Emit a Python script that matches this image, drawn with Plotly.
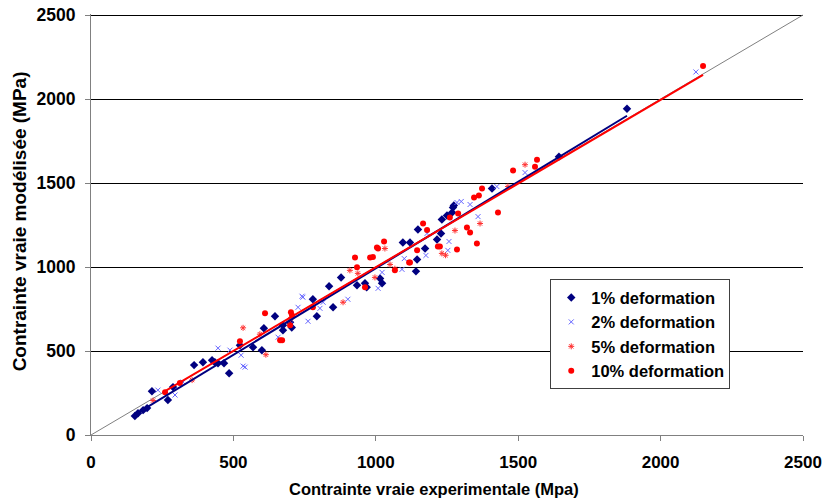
import numpy as np
import plotly.graph_objects as go

# ---- data ----
s1_x = [154, 165, 183, 197, 214, 270, 288, 362, 393, 425, 435, 446, 467, 485, 523, 569, 600, 607,
        646, 674, 674, 699, 705, 779, 793, 836, 850, 878, 934, 962, 968, 1015, 1022, 1095, 1120,
        1141, 1145, 1148, 1173, 1215, 1229, 1232, 1250, 1268, 1271, 1274, 1408, 1643, 1882]
s1_y = [113, 130, 148, 160, 261, 208, 285, 416, 433, 445, 433, 427, 427, 368, 534, 522, 505, 635,
        707, 653, 623, 671, 640, 808, 707, 885, 760, 938, 891, 903, 880, 932, 903, 1146, 1146,
        974, 1045, 1223, 1110, 1164, 1200, 1283, 1306, 1324, 1354, 1366, 1467, 1657, 1942]

s2_x = [235, 295, 323, 446, 488, 527, 534, 541, 657, 700, 727, 741, 744, 762, 804, 815, 902,
        1008, 1022, 1092, 1100, 1176, 1180, 1253, 1257, 1285, 1300, 1331, 1359, 1425, 1524, 2124]
s2_y = [267, 238, 315, 517, 505, 475, 410, 404, 582, 660, 760, 826, 820, 677, 754, 790, 808,
        873, 968, 986, 1050, 1069, 1200, 1099, 1152, 1384, 1390, 1372, 1300, 1479, 1562, 2161]

s5_x = [218, 355, 534, 593, 614, 700, 885, 909, 937, 997, 1032, 1050, 1067, 1232, 1245, 1278,
        1366, 1464, 1524]
s5_y = [205, 327, 638, 600, 478, 690, 790, 980, 962, 938, 1110, 1015, 990, 1081, 1070, 1217,
        1259, 1479, 1609]

s10_x = [260, 312, 523, 611, 664, 671, 699, 702, 706, 779, 927, 934, 962, 980, 990, 1004, 1008,
         1029, 1067, 1117, 1120, 1145, 1166, 1180, 1218, 1225, 1260, 1285, 1289, 1320, 1331,
         1345, 1355, 1362, 1373, 1429, 1482, 1559, 1566, 2149]
s10_y = [255, 309, 558, 724, 564, 564, 653, 730, 712, 760, 1057, 998, 879, 1057, 1060, 1116, 1110,
         1152, 980, 1027, 1027, 1099, 1259, 1220, 1122, 1122, 1294, 1104, 1318, 1235, 1205,
         1413, 1140, 1425, 1467, 1324, 1574, 1597, 1639, 2197]

names = ["1% deformation", "2% deformation", "5% deformation", "10% deformation"]
diag = [0, 2500]
x_ticks = [0, 500, 1000, 1500, 2000, 2500]
y_ticks = [0, 500, 1000, 1500, 2000, 2500]
x_title = "Contrainte vraie experimentale (Mpa)"
y_title = "Contrainte vraie modélisée (MPa)"

series = [
    (s1_x, s1_y, names[0], "#000080", dict(symbol="diamond", size=6.5, color="#000080")),
    (s2_x, s2_y, names[1], "#7777FF", dict(symbol="x-thin-open", size=5, color="#6666FF",
                                           line=dict(width=1, color="#6666FF"))),
    (s5_x, s5_y, names[2], "#FF0000", dict(symbol="asterisk-open", size=5, color="#FF3030",
                                           line=dict(width=1, color="#FF3030"))),
    (s10_x, s10_y, names[3], "#FF0000", dict(symbol="circle", size=6, color="#FF0000")),
]

fig = go.Figure()

# diagonal y = x
fig.add_trace(go.Scatter(x=diag, y=diag, mode="lines", line=dict(color="#808080", width=1),
                         showlegend=False, hoverinfo="skip"))

for sx, sy, nm, lc, mk in series:
    fig.add_trace(go.Scatter(x=sx, y=sy, mode="markers", name=nm, marker=mk))

# linear trend lines (drawn on top)
for idx in [0, 3]:
    sx, sy, nm, lc, mk = series[idx]
    a, b = np.polyfit(sx, sy, 1)
    xr = np.array([min(sx), max(sx)])
    fig.add_trace(go.Scatter(x=xr, y=a * xr + b, mode="lines", line=dict(color=lc, width=2),
                             showlegend=False, hoverinfo="skip"))

FAM = "Liberation Sans, Arial, sans-serif"
xtick_font = dict(family=FAM, size=17, color="black", weight="bold")
ytick_font = dict(family=FAM, size=17.5, color="black", weight="bold")

fig.update_layout(
    width=825, height=502,
    margin=dict(l=91, r=22, t=14, b=67, autoexpand=False),
    paper_bgcolor="white", plot_bgcolor="white",
    font=xtick_font,
    legend=dict(x=0.645, y=0.37, xanchor="left", yanchor="top",
                bgcolor="white", bordercolor="#404040", borderwidth=1, itemwidth=30,
                font=dict(family=FAM, size=16.5, color="black", weight="bold")),
    xaxis=dict(range=[0, 2500], tickvals=x_ticks, showgrid=False, zeroline=False,
               showline=True, linecolor="#808080", linewidth=1, automargin=False,
               ticks="outside", ticklen=5, tickcolor="#808080", ticklabelstandoff=7,
               ticklabeloverflow="allow", tickfont=xtick_font),
    yaxis=dict(range=[0, 2506], tickvals=y_ticks, showgrid=True, gridcolor="#000000",
               gridwidth=1, zeroline=False, automargin=False,
               showline=True, linecolor="#808080", linewidth=1,
               ticks="outside", ticklen=5, tickcolor="#808080", ticklabelstandoff=6,
               ticklabeloverflow="allow", tickfont=ytick_font),
    annotations=[
        dict(text=x_title, xref="paper", yref="paper", x=0.4817, y=-0.128,
             xanchor="center", yanchor="middle", showarrow=False,
             font=dict(family=FAM, size=16.5, color="black", weight="bold")),
        dict(text=y_title, xref="paper", yref="paper", x=-0.1, y=0.507, textangle=-90,
             xanchor="center", yanchor="middle", showarrow=False,
             font=dict(family=FAM, size=19, color="black", weight="bold")),
    ],
)

fig.write_html("out.html", config={"displayModeBar": False},
               post_script="document.body.style.margin='0';document.body.style.padding='0';")
